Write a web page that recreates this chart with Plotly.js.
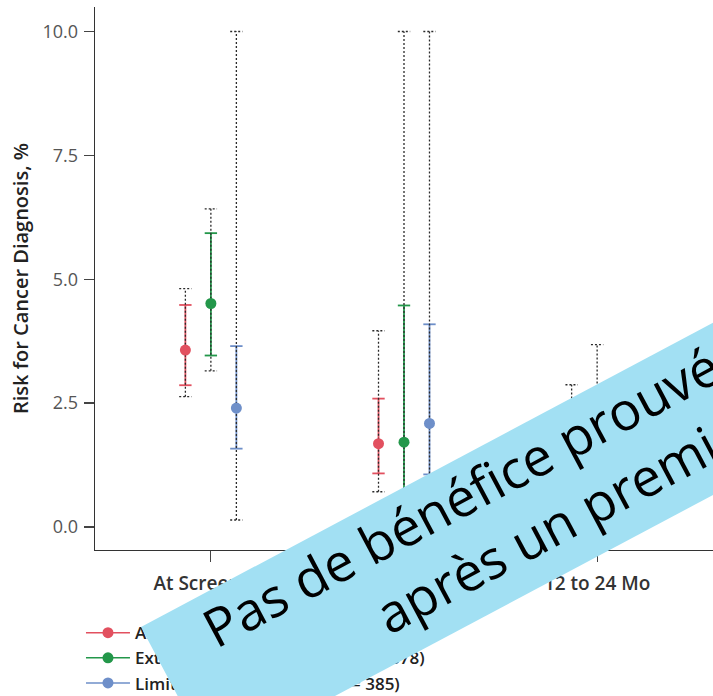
<!DOCTYPE html>
<html>
<head>
<meta charset="utf-8">
<script src="https://cdn.plot.ly/plotly-3.0.1.min.js"></script>
<style>
  html, body { margin: 0; padding: 0; background: #fff; overflow: hidden; }
  #wrap { position: relative; width: 713px; height: 696px; overflow: hidden; }
  #chart { position: absolute; left: 0; top: 0; width: 713px; height: 696px; }
  #banner {
    position: absolute; left: 141px; top: 627px; width: 1200px; height: 152px;
    background: #a2e0f3; transform-origin: 0 0; transform: rotate(-28deg);
    z-index: 10; font-family: 'Open Sans', sans-serif; font-size: 53px; color: #000;
  }
  #banner span { position: absolute; white-space: nowrap; line-height: 53px; }
</style>
</head>
<body>
<div id="wrap">
  <div id="chart"></div>
  <div id="banner">
    <span id="l1" style="left:56px; top:8px;">Pas de bénéfice prouvé d'un suivi prolongé</span>
    <span id="l2" style="left:215px; top:77px;">après un premier dépistage négatif</span>
  </div>
</div>
<script>
// ---- data ----
const categories = ["At Screening", "0 to 12 Mo", "12 to 24 Mo"];
const seriesNames = ["All patients (n = 4063)", "Extended evaluation arm (n = 1678)", "Limited evaluation arm (n = 385)"];

const allEst    = [3.57, 1.68, 0.95];
const allCiLow  = [2.86, 1.08, 0.45];
const allCiHigh = [4.48, 2.59, 1.75];
const allPiLow  = [2.63, 0.71, 0.25];
const allPiHigh = [4.81, 3.96, 2.87];

const extEst    = [4.51, 1.71, 1.15];
const extCiLow  = [3.46, 0.45, 0.35];
const extCiHigh = [5.93, 4.47, 2.60];
const extPiLow  = [3.15, 0.20, 0.15];
const extPiHigh = [6.42, 10.0, 3.68];

const limEst    = [2.40, 2.09, 0.75];
const limCiLow  = [1.58, 1.06, 0.20];
const limCiHigh = [3.65, 4.09, 1.60];
const limPiLow  = [0.14, 0.35, 0.05];
const limPiHigh = [10.0, 10.0, 2.40];

const yTicks = [0, 2.5, 5, 7.5, 10];

// ---- styling ----
const colors = ["#e2505f", "#23974a", "#6e8fc9"];
const offsets = [-0.132, 0, 0.132];
const capHalf = 0.032;

const series = [
  {name: seriesNames[0], est: allEst, ciLo: allCiLow, ciHi: allCiHigh, piLo: allPiLow, piHi: allPiHigh},
  {name: seriesNames[1], est: extEst, ciLo: extCiLow, ciHi: extCiHigh, piLo: extPiLow, piHi: extPiHigh},
  {name: seriesNames[2], est: limEst, ciLo: limCiLow, ciHi: limCiHigh, piLo: limPiLow, piHi: limPiHigh}
];

function barPath(xc, lo, hi) {
  const xs = [], ys = [];
  for (let i = 0; i < xc.length; i++) {
    const x = xc[i];
    xs.push(x, x, null, x - capHalf, x + capHalf, null, x - capHalf, x + capHalf, null);
    ys.push(lo[i], hi[i], null, lo[i], lo[i], null, hi[i], hi[i], null);
  }
  return {xs, ys};
}

const traces = [];
series.forEach((s, k) => {
  const xc = categories.map((c, i) => i + offsets[k]);
  const inner = barPath(xc, s.ciLo, s.ciHi);
  traces.push({x: inner.xs, y: inner.ys, mode: 'lines', type: 'scatter',
    line: {color: colors[k], width: 1.8}, showlegend: false, hoverinfo: 'skip'});
});
series.forEach((s, k) => {
  const xc = categories.map((c, i) => i + offsets[k]);
  const outer = barPath(xc, s.piLo, s.piHi);
  traces.push({x: outer.xs, y: outer.ys, mode: 'lines', type: 'scatter',
    line: {color: '#2a2a2a', width: 1.3, dash: '2px,2px'}, showlegend: false, hoverinfo: 'skip'});
});
series.forEach((s, k) => {
  const xs = [], ys = [];
  s.est.forEach((v, i) => { xs.push(i + offsets[k], null); ys.push(v, null); });
  traces.push({x: xs, y: ys, mode: 'lines+markers', type: 'scatter', name: s.name,
    connectgaps: false,
    line: {color: colors[k], width: 1.5},
    marker: {color: colors[k], size: 11}});
});

const layout = {
  width: 713, height: 696,
  margin: {l: 95, r: 0, t: 7, b: 146, autoexpand: false},
  paper_bgcolor: '#fff', plot_bgcolor: '#fff',
  font: {family: "'Open Sans', sans-serif"},
  showlegend: true,
  legend: {
    orientation: 'v', x: -0.0227, xanchor: 'left', y: -0.12, yanchor: 'top',
    font: {size: 17, color: '#222', weight: 600},
    itemwidth: 44,
    bgcolor: 'rgba(0,0,0,0)', tracegroupgap: 0
  },
  xaxis: {
    range: [-0.6, 2.6],
    tickvals: categories.map((c, i) => i),
    ticktext: categories,
    showline: true, linecolor: '#333', linewidth: 1.4,
    ticks: 'outside', ticklen: 11, tickcolor: '#444', tickwidth: 1.2,
    ticklabelstandoff: 5,
    showgrid: false, zeroline: false,
    tickfont: {size: 19, color: '#333', weight: 600}
  },
  yaxis: {
    range: [-0.466, 10.495],
    tickvals: yTicks,
    tickformat: '.1f',
    showline: true, linecolor: '#333', linewidth: 1.4,
    ticks: 'outside', ticklen: 10, tickcolor: '#444', tickwidth: 1.2,
    ticklabelstandoff: 2,
    showgrid: false, zeroline: false,
    tickfont: {size: 18, color: '#555'},
    title: {text: 'Risk for Cancer Diagnosis, %', font: {size: 20, color: '#222', weight: 600}, standoff: 8}
  }
};

Plotly.newPlot('chart', traces, layout, {displayModeBar: false, staticPlot: true});
</script>
</body>
</html>
